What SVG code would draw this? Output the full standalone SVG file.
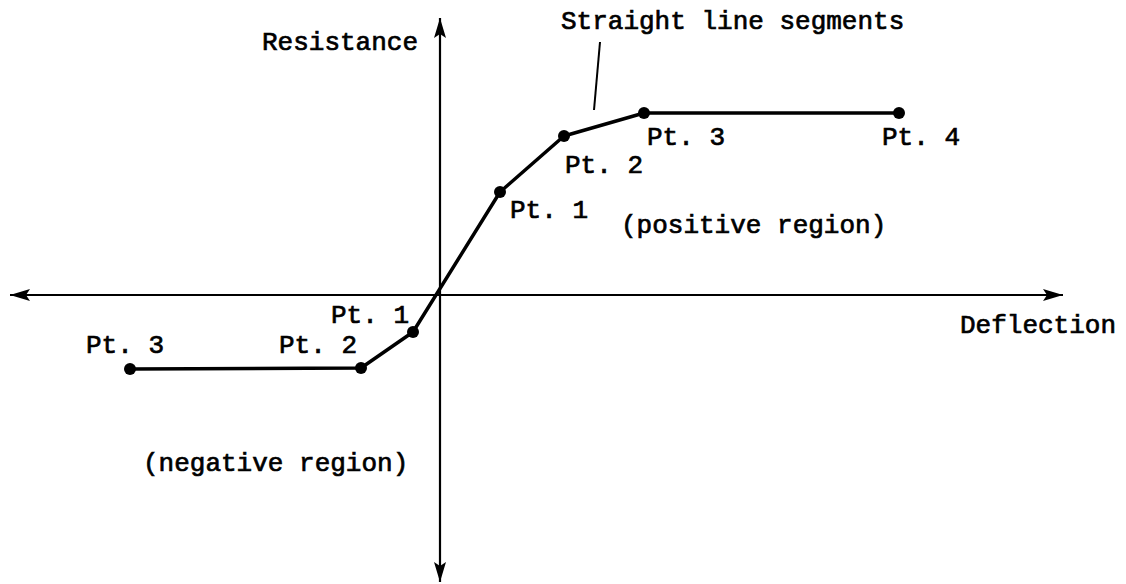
<svg xmlns="http://www.w3.org/2000/svg" width="1126" height="584" viewBox="0 0 1126 584">
<defs>
<style>
.lbl{font-family:"Liberation Mono","Courier New",monospace;font-size:26px;fill:#000;stroke:#000;stroke-width:0.7;font-weight:normal}
.axis{stroke:#000;stroke-width:2.2;fill:none}
.curve{stroke:#000;stroke-width:3.5;fill:none;stroke-linejoin:round}
.dot{fill:#000}
.lead{stroke:#000;stroke-width:2;fill:none}
</style>
<marker id="arr" viewBox="0 0 20 12" refX="20" refY="6" markerWidth="20" markerHeight="12" markerUnits="userSpaceOnUse" orient="auto">
<path d="M0,0 L20,6 L0,12 L4,6 Z" fill="#000"/>
</marker>
</defs>
<rect width="1126" height="584" fill="#fff"/>
<g id="connectors">
<line class="axis" x1="440" y1="295" x2="10" y2="295" marker-end="url(#arr)"/>
<line class="axis" x1="440" y1="295" x2="1063" y2="295" marker-end="url(#arr)"/>
<line class="axis" x1="440" y1="295" x2="440" y2="18" marker-end="url(#arr)"/>
<line class="axis" x1="440" y1="295" x2="440" y2="582" marker-end="url(#arr)"/>
<polyline class="curve" points="130,369 361,368 413,332 500,192 564,136 644,113 899,113"/>
<line class="lead" x1="600" y1="42" x2="594" y2="110"/>
</g>
<g id="points">
<circle class="dot" cx="130" cy="369" r="6"/>
<circle class="dot" cx="361" cy="368" r="6"/>
<circle class="dot" cx="413" cy="332" r="6"/>
<circle class="dot" cx="500" cy="192" r="6"/>
<circle class="dot" cx="564" cy="136" r="6"/>
<circle class="dot" cx="644" cy="113" r="6"/>
<circle class="dot" cx="899" cy="113" r="6"/>
</g>
<g id="labels">
<text class="lbl" x="262" y="50">Resistance</text>
<text class="lbl" x="561" y="29">Straight line segments</text>
<text class="lbl" x="960" y="333">Deflection</text>
<text class="lbl" x="510" y="218">Pt. 1</text>
<text class="lbl" x="565" y="173">Pt. 2</text>
<text class="lbl" x="647" y="145">Pt. 3</text>
<text class="lbl" x="882" y="145">Pt. 4</text>
<text class="lbl" x="621" y="233">(positive region)</text>
<text class="lbl" x="331" y="323">Pt. 1</text>
<text class="lbl" x="279" y="353">Pt. 2</text>
<text class="lbl" x="86" y="353">Pt. 3</text>
<text class="lbl" x="143" y="471">(negative region)</text>
</g>
</svg>
